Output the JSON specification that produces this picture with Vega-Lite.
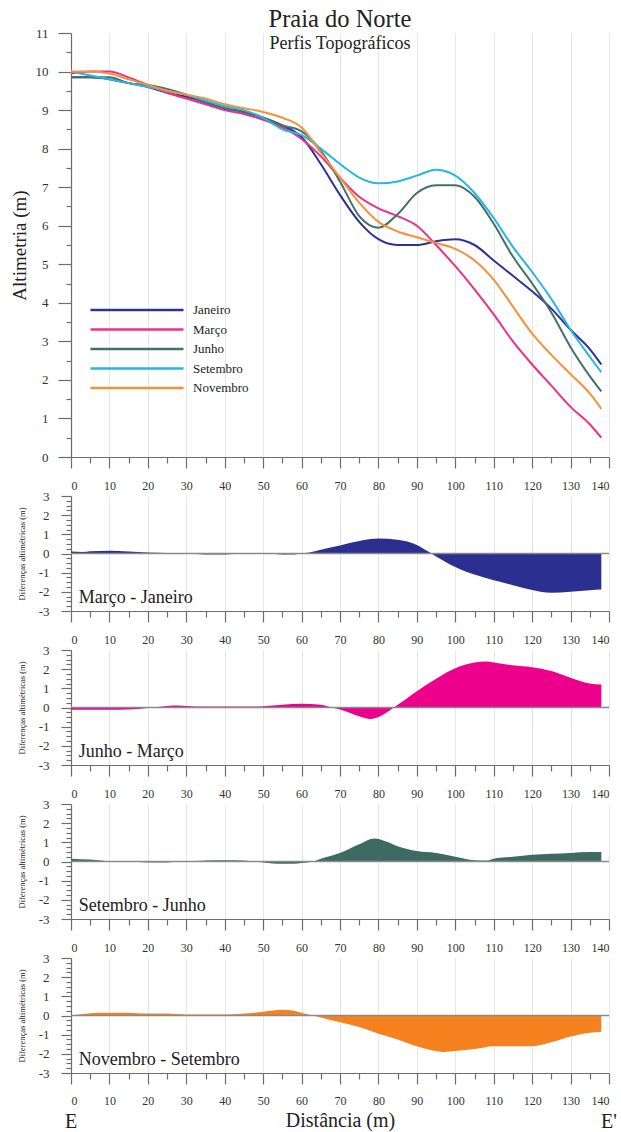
{
"$schema": "https://vega.github.io/schema/vega-lite/v6.json",
"padding": {"left": 10, "top": 6, "right": 5, "bottom": 0},
"spacing": 39,
"bounds": "flush",
"config": {
  "font": "Liberation Serif",
  "view": {"stroke": null},
  "axis": {"labelFont": "Liberation Serif", "titleFont": "Liberation Serif", "labelColor": "#333", "titleColor": "#222", "titleFontWeight": "normal", "domainColor": "#6d6d6d", "tickColor": "#6d6d6d", "gridColor": "#e6e6e6", "labelFontSize": 13, "domainWidth": 1.2, "tickWidth": 1.2}
},
"datasets": {
  "main": [
    {"d":0,"m":"Janeiro","v":9.85},{"d":5,"m":"Janeiro","v":9.85},{"d":10,"m":"Janeiro","v":9.8},{"d":15,"m":"Janeiro","v":9.7},{"d":20,"m":"Janeiro","v":9.6},{"d":25,"m":"Janeiro","v":9.45},{"d":30,"m":"Janeiro","v":9.35},{"d":35,"m":"Janeiro","v":9.2},{"d":40,"m":"Janeiro","v":9.05},{"d":45,"m":"Janeiro","v":8.95},{"d":50,"m":"Janeiro","v":8.8},{"d":55,"m":"Janeiro","v":8.6},{"d":60,"m":"Janeiro","v":8.3},{"d":65,"m":"Janeiro","v":7.6},{"d":70,"m":"Janeiro","v":6.8},{"d":75,"m":"Janeiro","v":6.1},{"d":80,"m":"Janeiro","v":5.65},{"d":85,"m":"Janeiro","v":5.5},{"d":90,"m":"Janeiro","v":5.5},{"d":95,"m":"Janeiro","v":5.6},{"d":100,"m":"Janeiro","v":5.65},{"d":105,"m":"Janeiro","v":5.5},{"d":110,"m":"Janeiro","v":5.1},{"d":115,"m":"Janeiro","v":4.7},{"d":120,"m":"Janeiro","v":4.3},{"d":125,"m":"Janeiro","v":3.85},{"d":130,"m":"Janeiro","v":3.3},{"d":135,"m":"Janeiro","v":2.8},{"d":138,"m":"Janeiro","v":2.4},
    {"d":0,"m":"Março","v":9.95},{"d":5,"m":"Março","v":10.0},{"d":10,"m":"Março","v":10.0},{"d":15,"m":"Março","v":9.85},{"d":20,"m":"Março","v":9.65},{"d":25,"m":"Março","v":9.45},{"d":30,"m":"Março","v":9.3},{"d":35,"m":"Março","v":9.15},{"d":40,"m":"Março","v":9.0},{"d":45,"m":"Março","v":8.9},{"d":50,"m":"Março","v":8.75},{"d":55,"m":"Março","v":8.55},{"d":60,"m":"Março","v":8.25},{"d":65,"m":"Março","v":7.8},{"d":70,"m":"Março","v":7.25},{"d":75,"m":"Março","v":6.75},{"d":80,"m":"Março","v":6.45},{"d":85,"m":"Março","v":6.25},{"d":90,"m":"Março","v":6.0},{"d":95,"m":"Março","v":5.5},{"d":100,"m":"Março","v":4.95},{"d":105,"m":"Março","v":4.35},{"d":110,"m":"Março","v":3.7},{"d":115,"m":"Março","v":3.0},{"d":120,"m":"Março","v":2.4},{"d":125,"m":"Março","v":1.85},{"d":130,"m":"Março","v":1.3},{"d":135,"m":"Março","v":0.85},{"d":138,"m":"Março","v":0.5},
    {"d":0,"m":"Junho","v":9.85},{"d":5,"m":"Junho","v":9.85},{"d":10,"m":"Junho","v":9.85},{"d":15,"m":"Junho","v":9.7},{"d":20,"m":"Junho","v":9.65},{"d":25,"m":"Junho","v":9.55},{"d":30,"m":"Junho","v":9.4},{"d":35,"m":"Junho","v":9.2},{"d":40,"m":"Junho","v":9.05},{"d":45,"m":"Junho","v":8.95},{"d":50,"m":"Junho","v":8.8},{"d":55,"m":"Junho","v":8.6},{"d":60,"m":"Junho","v":8.45},{"d":65,"m":"Junho","v":7.95},{"d":70,"m":"Junho","v":7.15},{"d":75,"m":"Junho","v":6.25},{"d":80,"m":"Junho","v":5.95},{"d":85,"m":"Junho","v":6.3},{"d":90,"m":"Junho","v":6.85},{"d":95,"m":"Junho","v":7.05},{"d":100,"m":"Junho","v":7.05},{"d":105,"m":"Junho","v":6.75},{"d":110,"m":"Junho","v":6.05},{"d":115,"m":"Junho","v":5.2},{"d":120,"m":"Junho","v":4.5},{"d":125,"m":"Junho","v":3.75},{"d":130,"m":"Junho","v":2.85},{"d":135,"m":"Junho","v":2.1},{"d":138,"m":"Junho","v":1.7},
    {"d":0,"m":"Setembro","v":10.0},{"d":5,"m":"Setembro","v":9.9},{"d":10,"m":"Setembro","v":9.8},{"d":15,"m":"Setembro","v":9.7},{"d":20,"m":"Setembro","v":9.6},{"d":25,"m":"Setembro","v":9.5},{"d":30,"m":"Setembro","v":9.4},{"d":35,"m":"Setembro","v":9.25},{"d":40,"m":"Setembro","v":9.1},{"d":45,"m":"Setembro","v":9.0},{"d":50,"m":"Setembro","v":8.8},{"d":55,"m":"Setembro","v":8.5},{"d":60,"m":"Setembro","v":8.35},{"d":65,"m":"Setembro","v":8.0},{"d":70,"m":"Setembro","v":7.6},{"d":75,"m":"Setembro","v":7.25},{"d":80,"m":"Setembro","v":7.1},{"d":85,"m":"Setembro","v":7.15},{"d":90,"m":"Setembro","v":7.3},{"d":95,"m":"Setembro","v":7.45},{"d":100,"m":"Setembro","v":7.3},{"d":105,"m":"Setembro","v":6.85},{"d":110,"m":"Setembro","v":6.2},{"d":115,"m":"Setembro","v":5.45},{"d":120,"m":"Setembro","v":4.8},{"d":125,"m":"Setembro","v":4.1},{"d":130,"m":"Setembro","v":3.3},{"d":135,"m":"Setembro","v":2.6},{"d":138,"m":"Setembro","v":2.2},
    {"d":0,"m":"Novembro","v":10.0},{"d":5,"m":"Novembro","v":10.0},{"d":10,"m":"Novembro","v":9.95},{"d":15,"m":"Novembro","v":9.8},{"d":20,"m":"Novembro","v":9.65},{"d":25,"m":"Novembro","v":9.5},{"d":30,"m":"Novembro","v":9.4},{"d":35,"m":"Novembro","v":9.3},{"d":40,"m":"Novembro","v":9.15},{"d":45,"m":"Novembro","v":9.05},{"d":50,"m":"Novembro","v":8.95},{"d":55,"m":"Novembro","v":8.8},{"d":60,"m":"Novembro","v":8.55},{"d":65,"m":"Novembro","v":7.9},{"d":70,"m":"Novembro","v":7.25},{"d":75,"m":"Novembro","v":6.6},{"d":80,"m":"Novembro","v":6.1},{"d":85,"m":"Novembro","v":5.85},{"d":90,"m":"Novembro","v":5.7},{"d":95,"m":"Novembro","v":5.55},{"d":100,"m":"Novembro","v":5.4},{"d":105,"m":"Novembro","v":5.1},{"d":110,"m":"Novembro","v":4.6},{"d":115,"m":"Novembro","v":3.9},{"d":120,"m":"Novembro","v":3.2},{"d":125,"m":"Novembro","v":2.65},{"d":130,"m":"Novembro","v":2.15},{"d":135,"m":"Novembro","v":1.65},{"d":138,"m":"Novembro","v":1.25}
  ],
  "p1": [{"d":0,"v":0.1},{"d":3,"v":0.08},{"d":5,"v":0.12},{"d":10,"v":0.15},{"d":15,"v":0.1},{"d":20,"v":0.05},{"d":25,"v":0.02},{"d":30,"v":0},{"d":35,"v":-0.05},{"d":40,"v":-0.05},{"d":45,"v":0},{"d":50,"v":0},{"d":53,"v":-0.03},{"d":55,"v":-0.05},{"d":58,"v":-0.05},{"d":60,"v":0},{"d":62,"v":0.05},{"d":65,"v":0.2},{"d":70,"v":0.42},{"d":75,"v":0.65},{"d":80,"v":0.78},{"d":85,"v":0.72},{"d":90,"v":0.45},{"d":93,"v":0.1},{"d":95,"v":-0.15},{"d":100,"v":-0.7},{"d":105,"v":-1.1},{"d":110,"v":-1.4},{"d":115,"v":-1.65},{"d":120,"v":-1.9},{"d":125,"v":-2.05},{"d":130,"v":-2.0},{"d":135,"v":-1.92},{"d":138,"v":-1.88}],
  "p2": [{"d":0,"v":-0.12},{"d":5,"v":-0.12},{"d":10,"v":-0.12},{"d":15,"v":-0.1},{"d":20,"v":-0.02},{"d":25,"v":0.08},{"d":28,"v":0.1},{"d":30,"v":0.08},{"d":35,"v":0.05},{"d":40,"v":0.05},{"d":45,"v":0.05},{"d":50,"v":0.07},{"d":55,"v":0.15},{"d":60,"v":0.2},{"d":65,"v":0.15},{"d":68,"v":0},{"d":70,"v":-0.1},{"d":75,"v":-0.45},{"d":78,"v":-0.6},{"d":80,"v":-0.5},{"d":84,"v":0},{"d":90,"v":0.85},{"d":95,"v":1.5},{"d":100,"v":2.05},{"d":105,"v":2.35},{"d":108,"v":2.4},{"d":110,"v":2.35},{"d":115,"v":2.2},{"d":120,"v":2.1},{"d":125,"v":1.9},{"d":130,"v":1.55},{"d":135,"v":1.25},{"d":138,"v":1.2}],
  "p3": [{"d":0,"v":0.15},{"d":5,"v":0.1},{"d":8,"v":0.05},{"d":10,"v":0},{"d":15,"v":0},{"d":20,"v":-0.05},{"d":25,"v":-0.05},{"d":28,"v":0},{"d":30,"v":0},{"d":35,"v":0.05},{"d":40,"v":0.07},{"d":45,"v":0.05},{"d":48,"v":0},{"d":50,"v":-0.05},{"d":55,"v":-0.12},{"d":58,"v":-0.12},{"d":60,"v":-0.08},{"d":63,"v":0},{"d":65,"v":0.15},{"d":70,"v":0.45},{"d":75,"v":0.9},{"d":79,"v":1.2},{"d":82,"v":1.05},{"d":85,"v":0.8},{"d":90,"v":0.55},{"d":95,"v":0.45},{"d":100,"v":0.25},{"d":105,"v":0.07},{"d":108,"v":0.05},{"d":110,"v":0.15},{"d":115,"v":0.25},{"d":120,"v":0.35},{"d":125,"v":0.4},{"d":130,"v":0.45},{"d":135,"v":0.5},{"d":138,"v":0.5}],
  "p4": [{"d":0,"v":0},{"d":3,"v":0.08},{"d":7,"v":0.15},{"d":10,"v":0.15},{"d":15,"v":0.15},{"d":20,"v":0.1},{"d":25,"v":0.1},{"d":30,"v":0.05},{"d":35,"v":0.05},{"d":40,"v":0.05},{"d":45,"v":0.1},{"d":50,"v":0.2},{"d":55,"v":0.3},{"d":58,"v":0.25},{"d":60,"v":0.15},{"d":63,"v":0},{"d":65,"v":-0.1},{"d":70,"v":-0.35},{"d":75,"v":-0.6},{"d":80,"v":-0.95},{"d":85,"v":-1.25},{"d":90,"v":-1.6},{"d":95,"v":-1.85},{"d":97,"v":-1.9},{"d":100,"v":-1.85},{"d":105,"v":-1.75},{"d":110,"v":-1.6},{"d":115,"v":-1.6},{"d":120,"v":-1.6},{"d":125,"v":-1.4},{"d":130,"v":-1.1},{"d":135,"v":-0.9},{"d":138,"v":-0.85}]
},
"vconcat": [
  {
    "width": 538, "height": 424,
    "title": {"text": "Praia do Norte", "subtitle": "Perfis Topográficos", "font": "Liberation Serif", "subtitleFont": "Liberation Serif", "fontSize": 24.5, "subtitleFontSize": 18, "fontWeight": "normal", "color": "#222", "subtitleColor": "#222", "anchor": "middle", "offset": -27, "subtitlePadding": 3},
    "data": {"name": "main"},
    "mark": {"type": "line", "interpolate": "monotone", "strokeWidth": 2},
    "encoding": {
      "x": {"field": "d", "type": "quantitative", "scale": {"domain": [0, 140], "nice": false},
        "axis": {"orient": "bottom", "values": [0,5,10,15,20,25,30,35,40,45,50,55,60,65,70,75,80,85,90,95,100,105,110,115,120,125,130,135,140], "labels": false, "title": null, "grid": true,
          "gridOpacity": {"condition": {"test": "datum.value % 10 === 0", "value": 1}, "value": 0},
          "tickSize": {"condition": {"test": "datum.value % 10 === 0", "value": 11}, "value": 6}}},
      "y": {"field": "v", "type": "quantitative", "scale": {"domain": [0, 11], "nice": false},
        "axis": {"values": [0,0.5,1,1.5,2,2.5,3,3.5,4,4.5,5,5.5,6,6.5,7,7.5,8,8.5,9,9.5,10,10.5,11], "grid": false, "title": "Altimetria (m)", "titleFontSize": 19, "titlePadding": 6, "labelPadding": 10,
          "labelExpr": "datum.value % 1 === 0 ? '' + datum.value : ''",
          "tickSize": {"condition": {"test": "datum.value % 1 === 0", "value": 13}, "value": 5}}},
      "color": {"field": "m", "type": "nominal",
        "scale": {"domain": ["Janeiro", "Março", "Junho", "Setembro", "Novembro"], "range": ["#2e3192", "#e8308c", "#44716a", "#27b4e6", "#f5913a"]},
        "legend": {"orient": "none", "legendX": 18, "legendY": 268, "title": null, "symbolType": "stroke", "symbolSize": 8649, "symbolStrokeWidth": 2.5, "labelFont": "Liberation Serif", "labelFontSize": 13, "labelColor": "#222", "clipHeight": 18, "rowPadding": 1.5, "labelOffset": 8, "padding": 0}}
    }
  },
  {
    "width": 538, "height": 115,
    "resolve": {"axis": {"x": "independent", "y": "independent"}},
    "layer": [
      {"data": {"name": "p1"}, "mark": {"type": "area", "interpolate": "monotone", "color": "#2b2f8f"},
       "encoding": {
         "x": {"field": "d", "type": "quantitative", "scale": {"domain": [0, 140], "nice": false}, "axis": {"orient": "top", "values": [0,10,20,30,40,50,60,70,80,90,100,110,120,130,140], "ticks": false, "tickSize": 0, "domain": false, "grid": true, "labelPadding": 4, "labelFontSize": 12, "title": null}},
         "y": {"field": "v", "type": "quantitative", "scale": {"domain": [-3, 3], "nice": false},
           "axis": {"orient": "left", "values": [-3,-2.75,-2.5,-2.25,-2,-1.75,-1.5,-1.25,-1,-0.75,-0.5,-0.25,0,0.25,0.5,0.75,1,1.25,1.5,1.75,2,2.25,2.5,2.75,3], "grid": false, "title": "Diferenças altimétricas (m)", "titleFontSize": 8.5, "titlePadding": 12, "labelPadding": 12,
             "labelExpr": "datum.value % 1 === 0 ? '' + datum.value : ''",
             "tickSize": {"condition": {"test": "datum.value % 1 === 0", "value": 10}, "value": 5}}},
         "y2": {"datum": 0}
       }},
      {"data": {"name": "p1"}, "mark": {"type": "line", "strokeOpacity": 0},
       "encoding": {
         "x": {"field": "d", "type": "quantitative", "scale": {"domain": [0, 140], "nice": false}, "axis": {"orient": "bottom", "values": [0,5,10,15,20,25,30,35,40,45,50,55,60,65,70,75,80,85,90,95,100,105,110,115,120,125,130,135,140], "labels": false, "grid": false, "title": null, "tickSize": {"condition": {"test": "datum.value % 10 === 0", "value": 11}, "value": 6}}},
         "y": {"field": "v", "type": "quantitative", "axis": null}
       }},
      {"data": {"values": [{}]}, "mark": {"type": "rule", "color": "#8a8a8a", "strokeWidth": 1.5}, "encoding": {"y": {"datum": 0, "type": "quantitative", "axis": null}}},
      {"data": {"values": [{}]}, "mark": {"type": "text", "text": "Março - Janeiro", "font": "Liberation Serif", "fontSize": 18, "align": "left", "baseline": "middle", "color": "#222"},
       "encoding": {"x": {"datum": 2, "type": "quantitative", "axis": null}, "y": {"datum": -2.3, "type": "quantitative", "axis": null}}}
    ]
  },
  {
    "width": 538, "height": 115,
    "resolve": {"axis": {"x": "independent", "y": "independent"}},
    "layer": [
      {"data": {"name": "p2"}, "mark": {"type": "area", "interpolate": "monotone", "color": "#ec008c"},
       "encoding": {
         "x": {"field": "d", "type": "quantitative", "scale": {"domain": [0, 140], "nice": false}, "axis": {"orient": "top", "values": [0,10,20,30,40,50,60,70,80,90,100,110,120,130,140], "ticks": false, "tickSize": 0, "domain": false, "grid": true, "labelPadding": 4, "labelFontSize": 12, "title": null}},
         "y": {"field": "v", "type": "quantitative", "scale": {"domain": [-3, 3], "nice": false},
           "axis": {"orient": "left", "values": [-3,-2.75,-2.5,-2.25,-2,-1.75,-1.5,-1.25,-1,-0.75,-0.5,-0.25,0,0.25,0.5,0.75,1,1.25,1.5,1.75,2,2.25,2.5,2.75,3], "grid": false, "title": "Diferenças altimétricas (m)", "titleFontSize": 8.5, "titlePadding": 12, "labelPadding": 12,
             "labelExpr": "datum.value % 1 === 0 ? '' + datum.value : ''",
             "tickSize": {"condition": {"test": "datum.value % 1 === 0", "value": 10}, "value": 5}}},
         "y2": {"datum": 0}
       }},
      {"data": {"name": "p2"}, "mark": {"type": "line", "strokeOpacity": 0},
       "encoding": {
         "x": {"field": "d", "type": "quantitative", "scale": {"domain": [0, 140], "nice": false}, "axis": {"orient": "bottom", "values": [0,5,10,15,20,25,30,35,40,45,50,55,60,65,70,75,80,85,90,95,100,105,110,115,120,125,130,135,140], "labels": false, "grid": false, "title": null, "tickSize": {"condition": {"test": "datum.value % 10 === 0", "value": 11}, "value": 6}}},
         "y": {"field": "v", "type": "quantitative", "axis": null}
       }},
      {"data": {"values": [{}]}, "mark": {"type": "rule", "color": "#8a8a8a", "strokeWidth": 1.5}, "encoding": {"y": {"datum": 0, "type": "quantitative", "axis": null}}},
      {"data": {"values": [{}]}, "mark": {"type": "text", "text": "Junho - Março", "font": "Liberation Serif", "fontSize": 18, "align": "left", "baseline": "middle", "color": "#222"},
       "encoding": {"x": {"datum": 2, "type": "quantitative", "axis": null}, "y": {"datum": -2.3, "type": "quantitative", "axis": null}}}
    ]
  },
  {
    "width": 538, "height": 115,
    "resolve": {"axis": {"x": "independent", "y": "independent"}},
    "layer": [
      {"data": {"name": "p3"}, "mark": {"type": "area", "interpolate": "monotone", "color": "#3d6b61"},
       "encoding": {
         "x": {"field": "d", "type": "quantitative", "scale": {"domain": [0, 140], "nice": false}, "axis": {"orient": "top", "values": [0,10,20,30,40,50,60,70,80,90,100,110,120,130,140], "ticks": false, "tickSize": 0, "domain": false, "grid": true, "labelPadding": 4, "labelFontSize": 12, "title": null}},
         "y": {"field": "v", "type": "quantitative", "scale": {"domain": [-3, 3], "nice": false},
           "axis": {"orient": "left", "values": [-3,-2.75,-2.5,-2.25,-2,-1.75,-1.5,-1.25,-1,-0.75,-0.5,-0.25,0,0.25,0.5,0.75,1,1.25,1.5,1.75,2,2.25,2.5,2.75,3], "grid": false, "title": "Diferenças altimétricas (m)", "titleFontSize": 8.5, "titlePadding": 12, "labelPadding": 12,
             "labelExpr": "datum.value % 1 === 0 ? '' + datum.value : ''",
             "tickSize": {"condition": {"test": "datum.value % 1 === 0", "value": 10}, "value": 5}}},
         "y2": {"datum": 0}
       }},
      {"data": {"name": "p3"}, "mark": {"type": "line", "strokeOpacity": 0},
       "encoding": {
         "x": {"field": "d", "type": "quantitative", "scale": {"domain": [0, 140], "nice": false}, "axis": {"orient": "bottom", "values": [0,5,10,15,20,25,30,35,40,45,50,55,60,65,70,75,80,85,90,95,100,105,110,115,120,125,130,135,140], "labels": false, "grid": false, "title": null, "tickSize": {"condition": {"test": "datum.value % 10 === 0", "value": 11}, "value": 6}}},
         "y": {"field": "v", "type": "quantitative", "axis": null}
       }},
      {"data": {"values": [{}]}, "mark": {"type": "rule", "color": "#8a8a8a", "strokeWidth": 1.5}, "encoding": {"y": {"datum": 0, "type": "quantitative", "axis": null}}},
      {"data": {"values": [{}]}, "mark": {"type": "text", "text": "Setembro - Junho", "font": "Liberation Serif", "fontSize": 18, "align": "left", "baseline": "middle", "color": "#222"},
       "encoding": {"x": {"datum": 2, "type": "quantitative", "axis": null}, "y": {"datum": -2.3, "type": "quantitative", "axis": null}}}
    ]
  },
  {
    "width": 538, "height": 115,
    "resolve": {"axis": {"x": "independent", "y": "independent"}},
    "layer": [
      {"data": {"name": "p4"}, "mark": {"type": "area", "interpolate": "monotone", "color": "#f5821f"},
       "encoding": {
         "x": {"field": "d", "type": "quantitative", "scale": {"domain": [0, 140], "nice": false}, "axis": {"orient": "top", "values": [0,10,20,30,40,50,60,70,80,90,100,110,120,130,140], "ticks": false, "tickSize": 0, "domain": false, "grid": true, "labelPadding": 4, "labelFontSize": 12, "title": null}},
         "y": {"field": "v", "type": "quantitative", "scale": {"domain": [-3, 3], "nice": false},
           "axis": {"orient": "left", "values": [-3,-2.75,-2.5,-2.25,-2,-1.75,-1.5,-1.25,-1,-0.75,-0.5,-0.25,0,0.25,0.5,0.75,1,1.25,1.5,1.75,2,2.25,2.5,2.75,3], "grid": false, "title": "Diferenças altimétricas (m)", "titleFontSize": 8.5, "titlePadding": 12, "labelPadding": 12,
             "labelExpr": "datum.value % 1 === 0 ? '' + datum.value : ''",
             "tickSize": {"condition": {"test": "datum.value % 1 === 0", "value": 10}, "value": 5}}},
         "y2": {"datum": 0}
       }},
      {"data": {"name": "p4"}, "mark": {"type": "line", "strokeOpacity": 0},
       "encoding": {
         "x": {"field": "d", "type": "quantitative", "scale": {"domain": [0, 140], "nice": false}, "axis": {"orient": "bottom", "values": [0,5,10,15,20,25,30,35,40,45,50,55,60,65,70,75,80,85,90,95,100,105,110,115,120,125,130,135,140], "grid": false, "title": "Distância (m)", "titleFontSize": 20, "titlePadding": 4, "labelPadding": 11, "labelFontSize": 12,
           "labelExpr": "datum.value % 10 === 0 ? '' + datum.value : ''",
           "tickSize": {"condition": {"test": "datum.value % 10 === 0", "value": 11}, "value": 6}}},
         "y": {"field": "v", "type": "quantitative", "axis": null}
       }},
      {"data": {"values": [{}]}, "mark": {"type": "rule", "color": "#8a8a8a", "strokeWidth": 1.5}, "encoding": {"y": {"datum": 0, "type": "quantitative", "axis": null}}},
      {"data": {"values": [{}]}, "mark": {"type": "text", "text": "Novembro - Setembro", "font": "Liberation Serif", "fontSize": 18, "align": "left", "baseline": "middle", "color": "#222"},
       "encoding": {"x": {"datum": 2, "type": "quantitative", "axis": null}, "y": {"datum": -2.3, "type": "quantitative", "axis": null}}},
      {"data": {"values": [{}]}, "mark": {"type": "text", "text": "E", "font": "Liberation Serif", "fontSize": 20, "align": "center", "baseline": "middle", "color": "#222"},
       "encoding": {"x": {"datum": 0, "type": "quantitative", "axis": null}, "y": {"datum": -5.55, "type": "quantitative", "axis": null}}},
      {"data": {"values": [{}]}, "mark": {"type": "text", "text": "E'", "font": "Liberation Serif", "fontSize": 20, "align": "center", "baseline": "middle", "color": "#222"},
       "encoding": {"x": {"datum": 140, "type": "quantitative", "axis": null}, "y": {"datum": -5.55, "type": "quantitative", "axis": null}}}
    ]
  }
]
}
